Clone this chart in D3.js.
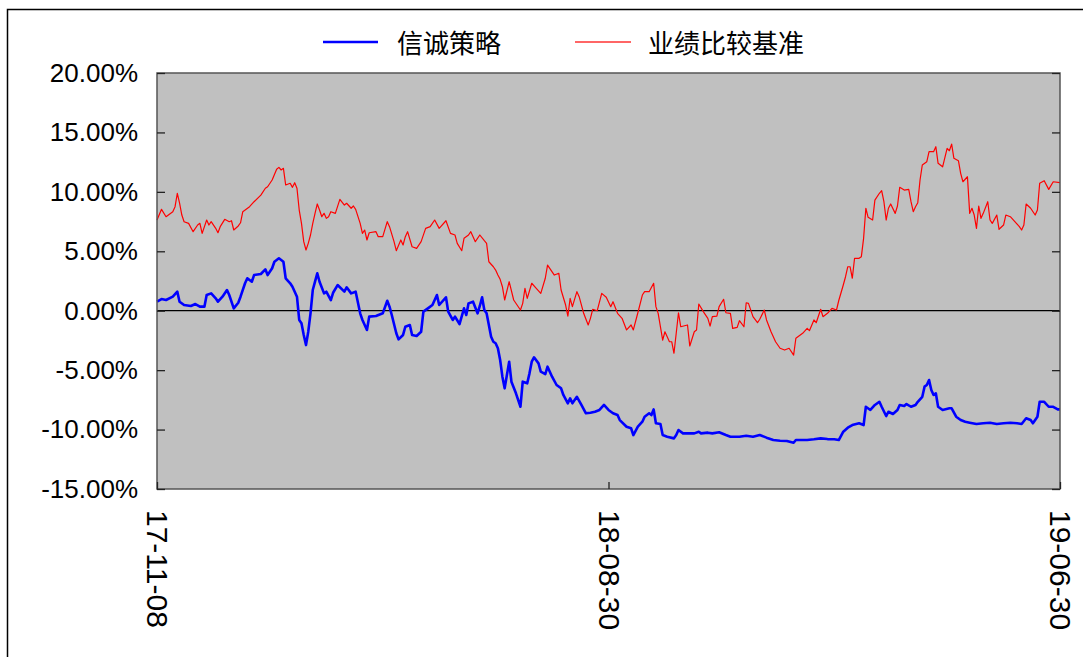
<!DOCTYPE html>
<html>
<head>
<meta charset="utf-8">
<script src="https://cdn.jsdelivr.net/npm/d3@7/dist/d3.min.js"></script>
<style>
  html, body { margin: 0; padding: 0; background: #fff; }
  svg { display: block; }
</style>
</head>
<body>
<svg id="chart" width="1083" height="657"></svg>
<script>
// ---------- data ----------
// x: trading-day index from 17-11-08 (0) to 19-06-30 (400); values in %
const seriesNames = ["信诚策略", "业绩比较基准"];
const xTickIdx = [0, 200, 400];
const xTickLabels = ["17-11-08", "18-08-30", "19-06-30"];
const yTicks = [20, 15, 10, 5, 0, -5, -10, -15];

const strategy = [
[0,0.76],[2,0.98],[4,0.90],[7,1.18],[9,1.60],[10,0.76],[12,0.48],[15,0.40],[17,0.56],[19,0.34],
[21,0.34],[22,1.32],[24,1.46],[26,1.04],[27,0.76],[29,1.18],[31,1.74],[32,1.32],[34,0.20],[36,0.67],
[37,1.18],[39,2.31],[40,2.73],[42,2.44],[43,3.00],[46,3.09],[48,3.48],[49,3.00],[51,3.57],[52,4.12],
[54,4.41],[56,4.12],[57,2.73],[59,2.31],[60,2.02],[62,1.18],[63,-0.78],[64,-1.06],[65,-2.04],[66,-2.89],
[67,-1.77],[68,-0.22],[69,1.74],[70,2.44],[71,3.15],[72,2.44],[74,1.46],[75,1.60],[77,0.90],[78,1.51],
[80,2.16],[83,1.60],[84,1.97],[86,1.46],[88,1.60],[90,-0.22],[91,-0.78],[93,-1.62],[94,-0.50],[97,-0.45],
[100,-0.22],[102,0.84],[103,0.34],[104,-0.36],[106,-1.90],[107,-2.41],[109,-2.04],[110,-1.35],[112,-1.20],[113,-2.04],
[115,-2.13],[117,-1.77],[118,-0.08],[120,0.20],[122,0.48],[124,1.32],[125,0.48],[128,1.13],[129,-0.08],[131,-0.78],
[132,-0.50],[134,-1.12],[136,0.20],[137,-0.36],[138,0.62],[140,0.76],[142,-0.22],[143,0.40],[144,1.13],[145,0.06],
[146,-0.22],[148,-2.19],[149,-2.61],[150,-2.74],[151,-3.16],[152,-4.15],[153,-5.55],[154,-6.53],[156,-4.29],[157,-5.97],
[159,-6.95],[161,-8.08],[162,-5.97],[164,-6.11],[165,-5.27],[166,-4.29],[167,-3.92],[169,-4.43],[170,-5.13],[172,-5.33],
[173,-4.71],[175,-5.55],[177,-6.25],[179,-6.53],[180,-7.09],[182,-7.79],[183,-7.37],[184,-7.79],[186,-7.24],[188,-7.93],
[190,-8.63],[192,-8.58],[194,-8.50],[196,-8.35],[198,-7.93],[200,-8.35],[202,-8.63],[204,-8.78],[205,-9.20],[208,-9.76],
[210,-9.89],[211,-10.46],[213,-9.76],[215,-9.34],[216,-8.92],[218,-8.63],[219,-8.78],[220,-8.30],[221,-9.47],[223,-9.53],
[224,-10.46],[226,-10.60],[229,-10.74],[230,-10.46],[231,-10.04],[233,-10.32],[236,-10.32],[238,-10.32],[240,-10.18],[241,-10.32],
[244,-10.26],[246,-10.32],[249,-10.23],[252,-10.46],[254,-10.60],[258,-10.60],[261,-10.52],[264,-10.60],[267,-10.46],[270,-10.68],
[273,-10.88],[276,-10.94],[279,-10.96],[282,-11.11],[283,-10.88],[288,-10.88],[291,-10.82],[294,-10.74],[297,-10.80],[300,-10.82],
[302,-10.88],[304,-10.18],[306,-9.84],[308,-9.62],[311,-9.47],[313,-9.62],[314,-8.08],[316,-8.35],[318,-7.93],[320,-7.66],
[321,-8.08],[323,-8.86],[324,-8.50],[326,-8.69],[328,-8.35],[329,-7.93],[331,-8.02],[332,-7.85],[334,-8.08],[336,-7.93],
[337,-7.66],[339,-7.24],[340,-6.39],[341,-6.25],[342,-5.83],[343,-6.67],[344,-7.09],[345,-6.95],[346,-8.08],[348,-8.35],
[351,-8.21],[352,-8.21],[354,-8.92],[356,-9.20],[358,-9.34],[360,-9.42],[363,-9.53],[366,-9.47],[369,-9.42],[372,-9.53],
[375,-9.47],[378,-9.42],[381,-9.47],[383,-9.53],[385,-9.05],[387,-9.20],[388,-9.47],[390,-8.92],[391,-7.66],[393,-7.66],
[395,-8.08],[397,-8.08],[399,-8.30],[400,-8.30]
];

const benchmark = [
[0,7.63],[2,8.53],[4,7.91],[7,8.33],[8,8.75],[9,9.88],[10,9.06],[11,8.05],[12,7.49],[14,7.35],
[16,6.65],[18,7.21],[19,7.35],[20,6.51],[22,7.63],[23,7.21],[24,7.49],[26,6.93],[27,6.56],[28,7.07],
[30,7.69],[32,7.49],[33,7.57],[34,6.79],[36,7.13],[37,7.40],[38,8.33],[41,8.75],[43,9.17],[46,9.73],
[48,10.30],[49,10.43],[51,11.00],[53,11.90],[54,12.06],[55,11.84],[56,11.98],[57,10.58],[59,10.72],[60,10.38],
[61,10.77],[62,10.30],[63,8.47],[64,7.35],[65,5.81],[66,5.11],[67,5.67],[68,6.37],[69,7.35],[70,8.19],
[71,8.98],[72,8.47],[73,7.91],[74,8.19],[75,7.77],[76,7.91],[77,8.33],[79,8.19],[81,9.37],[83,8.89],
[84,9.04],[86,8.62],[87,8.81],[88,8.53],[90,7.35],[91,6.51],[92,6.79],[93,5.95],[94,6.56],[97,6.65],
[98,6.23],[100,6.23],[102,7.49],[103,7.07],[105,5.81],[106,5.05],[108,5.95],[109,5.53],[110,6.23],[111,6.65],
[113,5.38],[115,5.25],[117,5.81],[119,6.93],[121,7.07],[123,7.63],[125,6.93],[128,7.57],[130,6.51],[132,6.37],
[133,5.67],[135,5.05],[136,6.09],[138,6.37],[139,6.65],[141,5.81],[143,6.37],[145,5.89],[146,5.67],[147,4.12],
[149,3.70],[150,3.42],[151,3.00],[152,2.64],[153,2.02],[154,0.90],[156,2.44],[158,0.90],[161,0.06],[162,0.62],
[163,1.88],[164,1.04],[166,2.31],[168,1.88],[170,1.46],[172,2.73],[173,3.84],[176,3.00],[178,3.15],[179,1.74],
[181,0.48],[182,-0.45],[183,1.04],[184,0.34],[186,1.60],[187,1.18],[189,-0.22],[191,-1.20],[192,-0.64],[193,0.12],
[195,0.00],[197,1.46],[199,1.13],[201,0.34],[202,0.76],[204,-0.22],[206,-0.64],[208,-1.62],[210,-1.20],[211,-1.62],
[213,-0.17],[215,1.32],[216,1.60],[218,1.60],[220,2.31],[221,0.34],[222,-0.22],[224,-2.47],[225,-1.77],[227,-2.61],
[228,-2.61],[229,-3.58],[230,-1.90],[231,-0.17],[232,-1.35],[235,-1.20],[236,-2.97],[238,-1.77],[239,-1.62],[240,0.56],
[242,-0.08],[244,-0.64],[245,-1.29],[246,-0.50],[248,-0.45],[249,0.34],[251,0.96],[252,-0.17],[254,-0.22],[255,-1.48],
[257,-1.40],[258,-0.84],[260,-1.35],[261,0.67],[262,0.62],[264,-0.50],[266,-1.01],[267,-0.72],[269,0.06],[270,-0.78],
[272,-1.77],[274,-2.61],[276,-3.16],[278,-3.31],[280,-3.16],[282,-3.73],[283,-2.32],[286,-1.90],[288,-1.48],[289,-1.68],
[291,-0.78],[292,-1.01],[294,0.12],[295,-0.50],[297,-0.22],[299,0.20],[301,0.06],[302,0.86],[304,2.16],[305,2.86],
[306,3.70],[307,3.70],[308,2.73],[309,4.41],[311,4.41],[312,4.54],[313,6.09],[314,8.62],[315,7.86],[317,7.63],
[318,9.31],[320,9.88],[321,10.10],[322,9.17],[323,7.63],[324,8.62],[325,8.98],[327,8.19],[328,8.81],[329,10.38],
[331,10.15],[333,10.21],[334,9.17],[335,8.33],[336,8.75],[337,9.09],[338,11.00],[339,12.26],[341,12.54],[342,13.38],
[344,13.38],[345,13.80],[346,12.40],[348,12.11],[350,13.66],[351,13.46],[352,14.02],[353,12.82],[355,12.62],[356,11.56],
[357,10.85],[359,11.27],[360,8.19],[361,8.62],[362,8.05],[363,6.93],[364,8.81],[365,7.77],[366,8.19],[368,9.17],
[369,7.63],[370,7.35],[372,8.05],[373,6.85],[375,7.21],[376,8.05],[378,7.91],[380,7.49],[382,7.07],[383,6.79],
[384,7.21],[385,8.98],[387,8.62],[389,8.05],[390,8.47],[391,10.72],[393,10.94],[395,10.21],[397,10.85],[400,10.77]
];

// ---------- layout ----------
const W = 1083, H = 657;
const plot = { left: 157, right: 1060, top: 73, bottom: 489 };
const svg = d3.select("#chart");
const axisFont = "'Liberation Sans', Arial, sans-serif";
const cjkFont = "'Noto Sans CJK SC', 'Noto Sans', sans-serif";

// outer frame
svg.append("rect")
  .attr("x", 7.5).attr("y", 9.5)
  .attr("width", W + 20).attr("height", H + 20)
  .attr("fill", "#fff").attr("stroke", "#000").attr("stroke-width", 1.5);

const x = d3.scaleLinear().domain([0, 400]).range([plot.left, plot.right]);
const y = d3.scaleLinear().domain([-15, 20]).range([plot.bottom, plot.top]);

// plot background
svg.append("rect")
  .attr("x", plot.left).attr("y", plot.top)
  .attr("width", plot.right - plot.left).attr("height", plot.bottom - plot.top)
  .attr("fill", "#C0C0C0");

// zero line
svg.append("line")
  .attr("x1", plot.left).attr("x2", plot.right)
  .attr("y1", y(0)).attr("y2", y(0))
  .attr("stroke", "#000").attr("stroke-width", 1.3);

// lines
const line = d3.line().x(d => x(d[0])).y(d => y(d[1]));
svg.append("path").datum(benchmark)
  .attr("d", line).attr("fill", "none")
  .attr("stroke", "#FF0000").attr("stroke-width", 1.2).attr("stroke-linejoin", "round");
svg.append("path").datum(strategy)
  .attr("d", line).attr("fill", "none")
  .attr("stroke", "#0000FF").attr("stroke-width", 2.6).attr("stroke-linejoin", "round");

// plot border
svg.append("rect")
  .attr("x", plot.left).attr("y", plot.top)
  .attr("width", plot.right - plot.left).attr("height", plot.bottom - plot.top)
  .attr("fill", "none").attr("stroke", "#555").attr("stroke-width", 1.5);

// y axis (left, labels + inner ticks)
const fmt = d => d.toFixed(2) + "%";
const yAxisL = svg.append("g")
  .attr("transform", `translate(${plot.left},0)`)
  .call(d3.axisLeft(y).tickValues(yTicks).tickFormat(fmt)
    .tickSizeInner(-8).tickSizeOuter(0).tickPadding(19));
yAxisL.select(".domain").remove();
yAxisL.selectAll("line").attr("stroke", "#222").attr("stroke-width", 1.3);
yAxisL.selectAll("text")
  .attr("font-family", axisFont).attr("font-size", 26).attr("fill", "#000");

// y axis (right, inner ticks only)
const yAxisR = svg.append("g")
  .attr("transform", `translate(${plot.right},0)`)
  .call(d3.axisRight(y).tickValues(yTicks).tickFormat("")
    .tickSizeInner(-8).tickSizeOuter(0));
yAxisR.select(".domain").remove();
yAxisR.selectAll("line").attr("stroke", "#222").attr("stroke-width", 1.3);

// x axis
const xAxis = svg.append("g")
  .attr("transform", `translate(0,${plot.bottom})`)
  .call(d3.axisBottom(x).tickValues(xTickIdx)
    .tickFormat((d, i) => xTickLabels[i])
    .tickSizeInner(-7).tickSizeOuter(0));
xAxis.select(".domain").remove();
xAxis.selectAll("line").attr("stroke", "#222").attr("stroke-width", 1.3);
xAxis.selectAll("text")
  .attr("font-family", axisFont).attr("font-size", 30).attr("fill", "#000")
  .attr("text-anchor", "start")
  .attr("dy", null)
  .attr("y", 0)
  .attr("dominant-baseline", "central")
  .attr("transform", "translate(0,21) rotate(90)");

// legend
const legend = svg.append("g");
const legendItems = [
  { name: seriesNames[0], color: "#0000FF", width: 2.6, x0: 323, x1: 378, tx: 397 },
  { name: seriesNames[1], color: "#FF3333", width: 1.5, x0: 575, x1: 631, tx: 648 }
];
legendItems.forEach(it => {
  legend.append("line")
    .attr("x1", it.x0).attr("x2", it.x1).attr("y1", 42).attr("y2", 42)
    .attr("stroke", it.color).attr("stroke-width", it.width);
  legend.append("text")
    .attr("x", it.tx).attr("y", 41)
    .attr("dominant-baseline", "central")
    .attr("font-family", cjkFont).attr("font-size", 26).attr("fill", "#000")
    .text(it.name);
});
</script>
</body>
</html>
